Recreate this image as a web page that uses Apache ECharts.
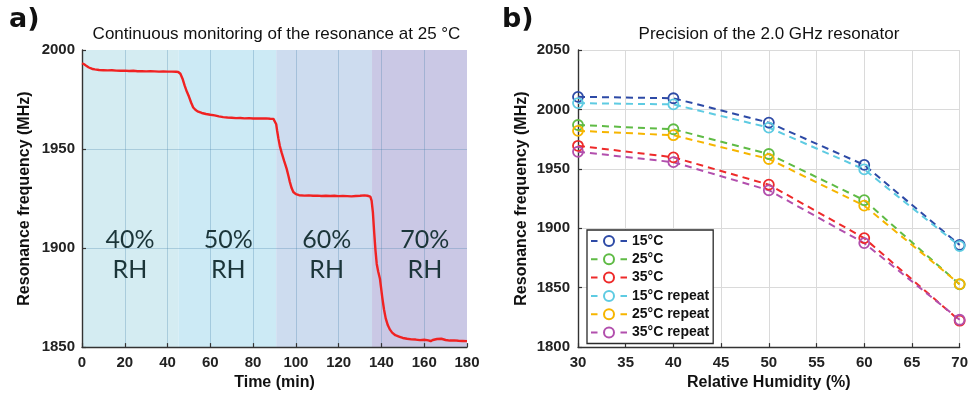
<!DOCTYPE html>
<html>
<head>
<meta charset="utf-8">
<script src="https://cdn.jsdelivr.net/npm/echarts@6/dist/echarts.min.js"></script>
<style>
  html, body { margin: 0; background: #fff; }
  #chart { width: 971px; height: 396px; }
</style>
</head>
<body>
<div id="chart"></div>
<script>
// panel a) continuous monitoring at 25 °C
const timeMin = [
  0, 1, 2, 3, 4, 5, 6, 8, 10, 12, 14, 16, 18, 20, 22, 24, 26, 28, 30, 32, 34, 36, 38, 40, 42, 44, 45,
  46, 47, 48, 49, 50, 51, 52, 53, 54, 56, 58, 60, 62, 64, 66, 68, 70, 72, 74, 76, 78, 80, 82, 84, 86, 88, 89.5,
  90.3, 90.8, 91.2, 91.8, 92.5, 93.3, 94.5, 95.7, 96.5, 97.2, 98, 98.8, 100, 101.5, 104, 106, 108, 110, 112, 114,
  116, 118, 120, 122, 124, 126, 128, 130, 132, 133.5, 134.8, 135.4,
  136, 136.6, 137.2, 137.8, 138.5, 139.3, 140.4, 141.2, 142, 143, 144, 145, 146.5, 148.5, 150, 152, 154, 156,
  158, 160, 162, 163, 164, 166, 168, 170, 172, 174, 176, 178, 180
];
const freqMHz = [
  1993.3, 1992.8, 1992.0, 1991.3, 1990.8, 1990.4, 1990.2, 1989.9, 1989.8, 1989.7, 1989.8, 1989.6, 1989.5, 1989.6,
  1989.4, 1989.5, 1989.3, 1989.3, 1989.2, 1989.3, 1989.2, 1989.1, 1989.2, 1989.1, 1989.1, 1989.0, 1988.9,
  1988.0, 1985.5, 1982.0, 1979.0, 1976.5, 1973.5, 1971.0, 1969.8, 1969.0, 1968.2, 1967.7, 1967.3, 1967.0, 1966.5,
  1966.1, 1965.9, 1965.8, 1965.6, 1965.7, 1965.5, 1965.6, 1965.4, 1965.5, 1965.4, 1965.5, 1965.3, 1965.2,
  1964.5, 1962.5, 1959.5, 1955.5, 1951.5, 1948.3, 1944.0, 1940.0, 1936.5, 1933.3, 1930.3, 1928.3, 1927.2, 1926.7,
  1926.5, 1926.6, 1926.4, 1926.5, 1926.3, 1926.4, 1926.3, 1926.4, 1926.2, 1926.3, 1926.2, 1926.1, 1926.3, 1926.4,
  1926.6, 1926.4, 1926.0, 1924.0,
  1918.0, 1908.0, 1899.0, 1892.0, 1888.0, 1884.5, 1875.0, 1869.0, 1864.5, 1861.0, 1858.8, 1857.3, 1856.0, 1855.2,
  1854.6, 1854.2, 1853.9, 1853.8, 1853.5, 1853.7, 1853.4, 1853.0, 1853.6, 1854.1, 1854.2, 1853.6, 1853.3, 1853.4,
  1853.2, 1853.1, 1853.0
];
const rhBands = [[0, 45.2], [45.2, 90.8], [90.8, 135.6], [135.6, 180]];
const rhLabels = ['40%\nRH', '50%\nRH', '60%\nRH', '70%\nRH'];
const rhLabelTime = [22.4, 68.4, 114.4, 160.3];
const rhLabelFreq = 1896.7;

// panel b) precision of the 2.0 GHz resonator
const humidity = [30, 40, 50, 60, 70];
const f15 = [2010.6, 2009.4, 1988.9, 1953.3, 1886.0];
const f25 = [1986.9, 1983.3, 1962.5, 1923.6, 1852.8];
const f35 = [1969.4, 1959.7, 1936.7, 1891.7, 1822.2];
const f15r = [2005.3, 2004.2, 1984.7, 1949.5, 1885.0];
const f25r = [1982.0, 1978.3, 1958.3, 1919.0, 1853.0];
const f35r = [1964.4, 1955.6, 1932.0, 1887.5, 1823.0];
const seriesNames = ['15°C', '25°C', '35°C', '15°C repeat', '25°C repeat', '35°C repeat'];
const seriesValues = [f15, f25, f35, f15r, f25r, f35r];
const seriesColors = ['#2d4aa6', '#5fbb45', '#ee2a2a', '#5ecbe2', '#f6b500', '#b24fad'];
const bandColors = ['#d4ecf2', '#cceaf5', '#cddcef', '#cac8e5'];

const sans = '"Liberation Sans", Arial, sans-serif';
const chart = echarts.init(document.getElementById('chart'));

const axisCommon = {
  axisLine: { show: true, lineStyle: { color: '#333', width: 1.4 } },
  axisTick: { show: true, inside: true, length: 4, lineStyle: { color: '#333', width: 1.2 } },
  axisLabel: {
    color: '#222', fontFamily: sans, fontWeight: 'bold', fontSize: 15,
    formatter: (v) => String(v),
  },
  nameLocation: 'middle',
  nameTextStyle: { color: '#111', fontFamily: sans, fontWeight: 'bold', fontSize: 16 },
};

const rightSeries = seriesNames.map((name, i) => ({
  name: name,
  type: 'line',
  xAxisIndex: 1,
  yAxisIndex: 1,
  data: humidity.map((h, j) => [h, seriesValues[i][j]]),
  symbol: 'circle',
  symbolSize: 10,
  itemStyle: { color: 'rgba(255,255,255,0)', borderColor: seriesColors[i], borderWidth: 1.8 },
  lineStyle: { color: seriesColors[i], width: 2, type: [7, 5] },
  animation: false,
}));

const option = {
  animation: false,
  title: [
    {
      text: 'Continuous monitoring of the resonance at 25 °C',
      left: 276.5, top: 26, textAlign: 'center', padding: 0,
      textStyle: { fontFamily: sans, fontWeight: 'normal', fontSize: 17, color: '#111' },
    },
    {
      text: 'Precision of the 2.0 GHz resonator',
      left: 769, top: 26, textAlign: 'center', padding: 0,
      textStyle: { fontFamily: sans, fontWeight: 'normal', fontSize: 17, color: '#111' },
    },
  ],
  graphic: [
    { type: 'text', left: 9, top: 6, style: { text: 'a)', font: 'bold 27px "DejaVu Sans"', fill: '#111' } },
    { type: 'text', left: 502, top: 6, style: { text: 'b)', font: 'bold 27px "DejaVu Sans"', fill: '#111' } },
  ],
  legend: {
    data: seriesNames,
    orient: 'vertical',
    left: 587, top: 230,
    padding: [4, 4, 4, 3],
    itemWidth: 36, itemHeight: 12.5, itemGap: 4.3,
    borderColor: '#2a2a2a', borderWidth: 1.3, backgroundColor: '#fff',
    lineStyle: { type: [6.5, 23] },
    textStyle: { fontFamily: sans, fontWeight: 'bold', fontSize: 14, color: '#111' },
  },
  grid: [
    { left: 82, right: 504, top: 50, bottom: 46 },
    { left: 578, right: 8, top: 50, bottom: 46 },
  ],
  xAxis: [
    Object.assign({}, axisCommon, {
      gridIndex: 0, type: 'value', min: 0, max: 180, interval: 20,
      name: 'Time (min)', nameGap: 27,
      splitLine: { show: true, showMaxLine: false, lineStyle: { color: 'rgba(70,130,170,0.3)', width: 1 } },
    }),
    Object.assign({}, axisCommon, {
      gridIndex: 1, type: 'value', min: 30, max: 70, interval: 5,
      name: 'Relative Humidity (%)', nameGap: 27,
      splitLine: { show: true, lineStyle: { color: '#dadada', width: 1 } },
    }),
  ],
  yAxis: [
    Object.assign({}, axisCommon, {
      gridIndex: 0, type: 'value', min: 1850, max: 2000, interval: 50,
      name: 'Resonance frequency (MHz)', nameGap: 49,
      axisLabel: Object.assign({}, axisCommon.axisLabel, { margin: 7 }),
      splitLine: { show: true, showMaxLine: false, lineStyle: { color: 'rgba(70,130,170,0.3)', width: 1 } },
    }),
    Object.assign({}, axisCommon, {
      gridIndex: 1, type: 'value', min: 1800, max: 2050, interval: 50,
      name: 'Resonance frequency (MHz)', nameGap: 48,
      axisLabel: Object.assign({}, axisCommon.axisLabel, { margin: 8 }),
      splitLine: { show: true, lineStyle: { color: '#dadada', width: 1 } },
    }),
  ],
  series: [
    {
      name: 'Resonance',
      type: 'line',
      xAxisIndex: 0,
      yAxisIndex: 0,
      data: timeMin.map((t, i) => [t, freqMHz[i]]),
      showSymbol: false,
      lineStyle: { color: '#f02222', width: 2.4 },
      markArea: {
        silent: true,
        z: -1,
        data: rhBands.map((b, i) => [
          { xAxis: b[0], itemStyle: { color: bandColors[i] } },
          { xAxis: b[1] },
        ]),
      },
      z: 3,
    },
    {
      name: 'RH labels',
      type: 'scatter',
      xAxisIndex: 0,
      yAxisIndex: 0,
      symbolSize: 0,
      itemStyle: { opacity: 1 },
      data: rhLabelTime.map((t, i) => [t, rhLabelFreq, rhLabels[i]]),
      label: {
        show: true,
        position: 'inside',
        formatter: (p) => p.value[2],
        fontFamily: 'Lato, "Open Sans", sans-serif',
        fontSize: 25,
        lineHeight: 30,
        color: '#1b3539',
        align: 'center',
      },
      silent: true,
      z: 4,
    },
    ...rightSeries,
  ],
};

chart.setOption(option);
</script>
</body>
</html>
